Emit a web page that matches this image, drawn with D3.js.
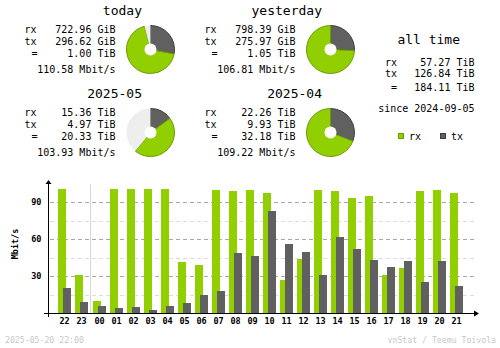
<!DOCTYPE html>
<html>
<head>
<meta charset="utf-8">
<script src="https://cdn.jsdelivr.net/npm/d3@7/dist/d3.min.js"></script>
<style>
  html, body { margin: 0; padding: 0; background: #fff; }
  svg { display: block; }
  text { font-family: "DejaVu Sans Mono", "Liberation Mono", monospace; fill: #000; }
</style>
</head>
<body>
<svg id="chart" width="500" height="348"></svg>
<script>
// Summary periods (top panels)
const periodTitles = ["today", "yesterday", "2025-05", "2025-04"];
const periodRx     = [722.96, 798.39, 15.36, 22.26];
const periodTx     = [296.62, 275.97, 4.97, 9.93];
const periodUnit   = ["GiB", "GiB", "TiB", "TiB"];
const periodTotal  = ["1.00 TiB", "1.05 TiB", "20.33 TiB", "32.18 TiB"];
const periodRate   = ["110.58 Mbit/s", "106.81 Mbit/s", "103.93 Mbit/s", "109.22 Mbit/s"];
const periodFill   = [0.96, 1, 0.61, 1];   // share of the period already elapsed

// All-time totals
const allTimeRx    = "57.27 TiB";
const allTimeTx    = "126.84 TiB";
const allTimeTotal = "184.11 TiB";
const allTimeSince = "since 2024-09-05";

// Hourly averages, Mbit/s
const hours  = ["22","23","00","01","02","03","04","05","06","07","08","09",
                "10","11","12","13","14","15","16","17","18","19","20","21"];
const hourRx = [100.8, 31.1, 10.0, 100.8, 100.8, 100.8, 100.8, 41.6, 39.2, 100.0, 99.2, 100.0,
                97.6, 27.0, 44.1, 100.0, 99.2, 93.5, 95.1, 31.1, 36.8, 99.2, 100.0, 97.6];
const hourTx = [20.5, 9.2, 5.9, 4.3, 5.1, 2.7, 5.9, 8.4, 14.9, 18.1, 48.9, 46.5,
                83.0, 56.2, 49.7, 31.1, 61.9, 52.2, 43.2, 37.6, 42.4, 25.4, 42.4, 22.2];
const yTicks = [30, 60, 90];
const yMinor = [15, 45, 75];

const footerLeft  = "2025-05-20 22:00";
const footerRight = "vnStat / Teemu Toivola";

const colRx = "#92cf00", colRxD = "#6c9c00";
const colTx = "#606060", colTxD = "#3c3c3c";
const colUnused = "#eeeeee";

const svg = d3.select("#chart");

// ---------- summary panels ----------
const pieArc = d3.arc().innerRadius(0).outerRadius(24);
const pieGen = d3.pie().sort(null).startAngle(0).endAngle(2 * Math.PI).value(d => d.v);

periodTitles.forEach((title, i) => {
  const dx = (i % 2) * 180, dy = Math.floor(i / 2) * 83;
  const g = svg.append("g").attr("transform", `translate(${dx},${dy})`);

  g.append("text").attr("x", 142).attr("y", 15.3).attr("text-anchor", "end")
    .style("font-size", "13px").text(title);

  const rows = [
    { lab: "rx", val: periodRx[i].toFixed(2) + " " + periodUnit[i], y: 33 },
    { lab: "tx", val: periodTx[i].toFixed(2) + " " + periodUnit[i], y: 45 },
    { lab: "=",  val: periodTotal[i], y: 57 }
  ];
  rows.forEach(r => {
    g.append("text").attr("x", r.lab === "=" ? 34.5 : 24.5).attr("y", r.y)
      .attr("text-anchor", r.lab === "=" ? "middle" : "start")
      .style("font-size", "10px").text(r.lab);
    g.append("text").attr("x", 115.5).attr("y", r.y).attr("text-anchor", "end")
      .style("font-size", "10px").text(r.val);
  });
  g.append("text").attr("x", 115.5).attr("y", 73).attr("text-anchor", "end")
    .style("font-size", "10px").text(periodRate[i]);

  // pie: tx first from the top, then rx, then the part of the period not yet elapsed
  const used = periodRx[i] + periodTx[i];
  const slices = [
    { v: periodTx[i], fill: colTx, stroke: colTxD },
    { v: periodRx[i], fill: colRx, stroke: colRxD },
    { v: used * (1 - periodFill[i]) / periodFill[i], fill: colUnused, stroke: "none" }
  ];
  const pg = g.append("g").attr("transform", "translate(150.5,49.5)");
  pg.selectAll("path").data(pieGen(slices)).join("path")
    .attr("d", pieArc)
    .attr("fill", d => d.data.fill)
    .attr("stroke", d => d.data.stroke)
    .attr("stroke-width", 1);
  pg.append("circle").attr("r", 6).attr("fill", "#fff");
});

// all time
svg.append("text").attr("x", 460).attr("y", 44).attr("text-anchor", "end")
  .style("font-size", "13px").text("all time");
[["rx", allTimeRx, 65.7], ["tx", allTimeTx, 77.3], ["=", allTimeTotal, 91.3]].forEach(r => {
  svg.append("text").attr("x", r[0] === "=" ? 394 : 385).attr("y", r[2])
    .attr("text-anchor", r[0] === "=" ? "middle" : "start")
    .style("font-size", "10px").text(r[0]);
  svg.append("text").attr("x", 474.5).attr("y", r[2]).attr("text-anchor", "end")
    .style("font-size", "10px").text(r[1]);
});
svg.append("text").attr("x", 474.5).attr("y", 111.5).attr("text-anchor", "end")
  .style("font-size", "10px").text(allTimeSince);

// legend
[["rx", colRx, colRxD, 398.5], ["tx", colTx, colTxD, 440.5]].forEach(l => {
  svg.append("rect").attr("x", l[3]).attr("y", 133.5).attr("width", 5).attr("height", 5)
    .attr("fill", l[1]).attr("stroke", l[2]).attr("stroke-width", 1);
  svg.append("text").attr("x", l[3] + 10.5).attr("y", 140).style("font-size", "10px").text(l[0]);
});

// ---------- hourly bar chart ----------
const x0 = 58, step = 17;
const idx = d3.scaleLinear().domain([0, hours.length - 1]).range([x0, x0 + step * (hours.length - 1)]);
const dayBreak = hours.indexOf("00");
const xLeft = i => idx(i) + (i >= dayBreak ? 1 : 0);
const y = d3.scaleLinear().domain([0, 90]).range([313, 202]);

const chart = svg.append("g").style("shape-rendering", "crispEdges");

// grid
chart.selectAll("line.minor").data(yMinor).join("line")
  .attr("x1", 50).attr("x2", 474).attr("y1", d => Math.round(y(d)) + 0.5).attr("y2", d => Math.round(y(d)) + 0.5)
  .attr("stroke", "#dddddd").attr("stroke-dasharray", "4,3");
chart.selectAll("line.major").data(yTicks).join("line")
  .attr("x1", 50).attr("x2", 474).attr("y1", d => Math.round(y(d)) + 0.5).attr("y2", d => Math.round(y(d)) + 0.5)
  .attr("stroke", "#a8a8a8").attr("stroke-dasharray", "4,3");

// day separator
const sepX = xLeft(dayBreak) - 3;
chart.append("line").attr("x1", sepX + 0.5).attr("x2", sepX + 0.5).attr("y1", 184).attr("y2", 313)
  .attr("stroke", "#d8d8d8");

// bars
chart.selectAll("rect.rx").data(hourRx).join("rect")
  .attr("x", (d, i) => xLeft(i)).attr("width", 8)
  .attr("y", d => y(d)).attr("height", d => y(0) - y(d)).attr("fill", colRx);
chart.selectAll("rect.tx").data(hourTx).join("rect")
  .attr("x", (d, i) => xLeft(i) + 5).attr("width", 8)
  .attr("y", d => y(d)).attr("height", d => y(0) - y(d)).attr("fill", colTx);

// axes
chart.append("line").attr("x1", 44).attr("x2", 476).attr("y1", 313.5).attr("y2", 313.5).attr("stroke", "#000");
chart.append("line").attr("x1", 48.5).attr("x2", 48.5).attr("y1", 182).attr("y2", 317).attr("stroke", "#000");
svg.append("path").attr("d", "M474,310.5 L479,313.5 L474,316.5 Z").attr("fill", "#000");
svg.append("path").attr("d", "M45.5,184 L48.5,180 L51.5,184 Z").attr("fill", "#000");

// tick labels
svg.selectAll("text.ytick").data(yTicks).join("text")
  .attr("x", 41.5).attr("y", d => y(d) + 3).attr("text-anchor", "end")
  .style("font-size", "8.5px").style("font-weight", "bold").text(d => d);
svg.selectAll("text.xtick").data(hours).join("text")
  .attr("x", (d, i) => xLeft(i) + 6.5).attr("y", 324.3).attr("text-anchor", "middle")
  .style("font-size", "8.5px").style("font-weight", "bold").text(d => d);
svg.append("text").attr("transform", "translate(17.5,244) rotate(-90)").attr("text-anchor", "middle")
  .style("font-size", "8.5px").style("font-weight", "bold").text("Mbit/s");

// footer
svg.append("text").attr("x", 5).attr("y", 342.5).style("font-size", "8.2px").style("fill", "#c8c8c8").text(footerLeft);
svg.append("text").attr("x", 496).attr("y", 342.5).attr("text-anchor", "end")
  .style("font-size", "8.2px").style("fill", "#c8c8c8").text(footerRight);
</script>
</body>
</html>
